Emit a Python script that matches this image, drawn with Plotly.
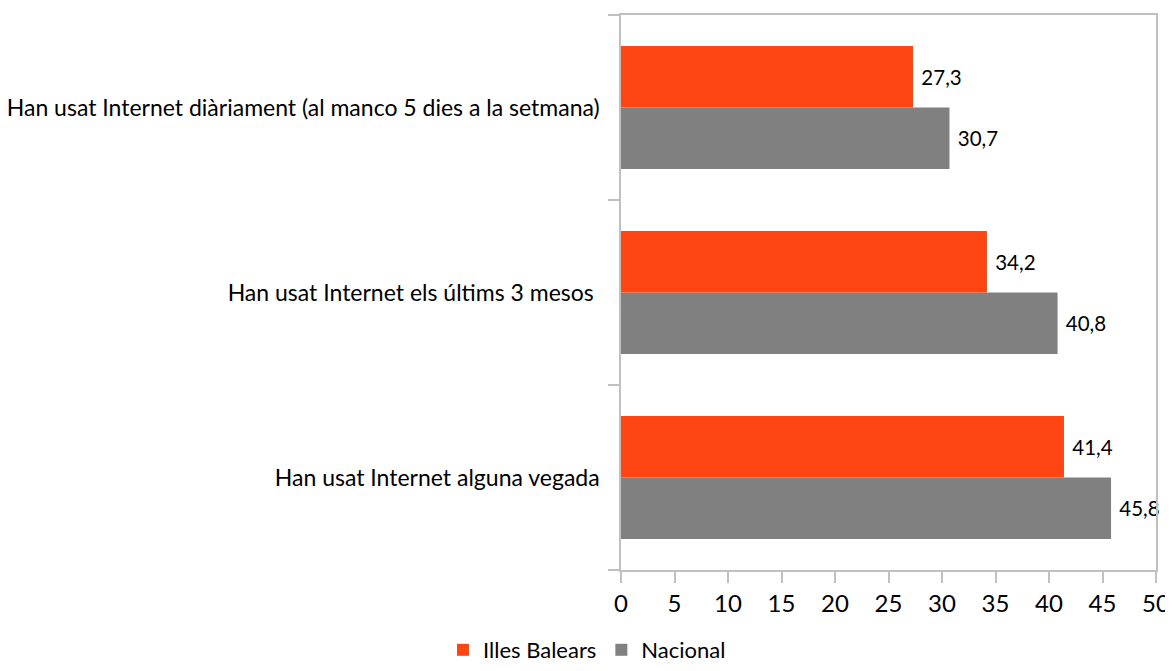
import plotly.graph_objects as go

categories = [
    "Han usat Internet alguna vegada",
    "Han usat Internet els últims 3 mesos ",
    "Han usat Internet diàriament (al manco 5 dies a la setmana)",
]
illes_balears = [41.4, 34.2, 27.3]
nacional = [45.8, 40.8, 30.7]
x_ticks = [0, 5, 10, 15, 20, 25, 30, 35, 40, 45, 50]

fig = go.Figure()
fig.add_trace(go.Bar(
    y=categories, x=nacional, orientation="h", name="Nacional",
    marker=dict(color="#808080", line=dict(width=0)),
    texttemplate=" %{x:.1f}", textposition="outside",
    textfont=dict(family="Lato", size=20.5, color="#000000"),
    legendrank=2, cliponaxis=False,
))
fig.add_trace(go.Bar(
    y=categories, x=illes_balears, orientation="h", name="Illes Balears",
    marker=dict(color="#FF4512", line=dict(width=0)),
    texttemplate=" %{x:.1f}", textposition="outside",
    textfont=dict(family="Lato", size=20.5, color="#000000"),
    legendrank=1, cliponaxis=False,
))

fig.update_layout(
    width=1165, height=663,
    separators=",.",
    barmode="group", bargap=0.335, bargroupgap=0,
    paper_bgcolor="white", plot_bgcolor="white",
    margin=dict(l=613, r=17, t=7, b=101, autoexpand=False),
    font=dict(family="Lato", color="#000000"),
    showlegend=True,
    legend=dict(orientation="h", x=0.497, xanchor="center", xref="container",
                y=0.0, yanchor="bottom", yref="container",
                font=dict(family="Lato", size=22, color="#000000"),
                itemwidth=30, traceorder="normal"),
    xaxis=dict(range=[0, 50], tickvals=x_ticks, showgrid=False, zeroline=False,
               automargin=False,
               showline=True, linecolor="#c0c0c0", linewidth=1.5, mirror=True,
               ticks="outside", ticklen=11, tickcolor="#c0c0c0", tickwidth=1.5,
               tickfont=dict(family="Lato", size=24, color="#000000")),
    yaxis=dict(categoryorder="array", categoryarray=categories, showgrid=False,
               automargin=False,
               showline=True, linecolor="#c0c0c0", linewidth=1.5, mirror=True,
               ticks="outside", ticklen=11, tickcolor="#c0c0c0", tickwidth=1.5,
               tickson="boundaries", ticklabelstandoff=15,
               tickfont=dict(family="Lato", size=23, color="#000000")),
)

fig.write_html("out.html")
